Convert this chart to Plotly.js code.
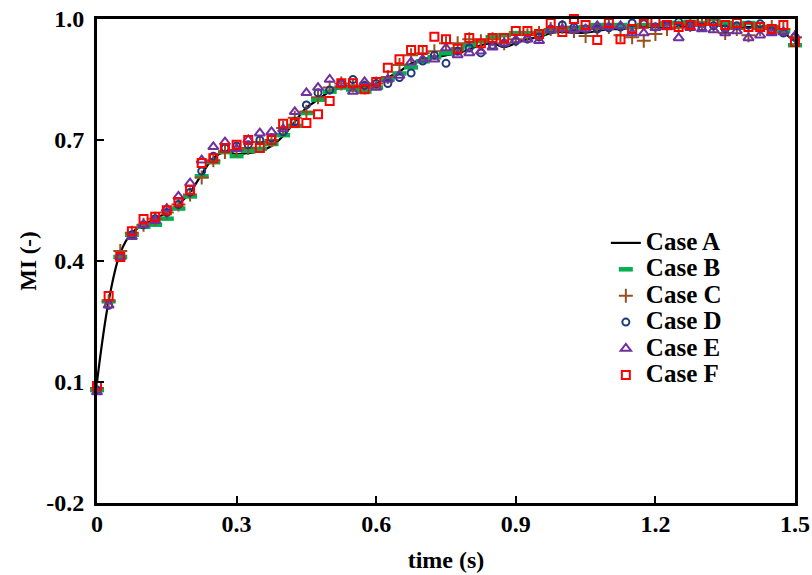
<!DOCTYPE html>
<html>
<head>
<meta charset="utf-8">
<script src="https://cdn.plot.ly/plotly-3.0.1.min.js"></script>
<style>html,body{margin:0;padding:0;background:#fff;}#chart{width:812px;height:575px;}</style>
</head>
<body>
<div id="chart"></div>
<script>
const time = [0,0.025,0.05,0.075,0.1,0.125,0.15,0.175,0.2,0.225,
  0.25,0.275,0.3,0.325,0.35,0.375,0.4,0.425,0.45,0.475,
  0.5,0.525,0.55,0.575,0.6,0.625,0.65,0.675,0.7,0.725,
  0.75,0.775,0.8,0.825,0.85,0.875,0.9,0.925,0.95,0.975,
  1.0,1.025,1.05,1.075,1.1,1.125,1.15,1.175,1.2,1.225,
  1.25,1.275,1.3,1.325,1.35,1.375,1.4,1.425,1.45,1.475,1.5];

const caseA = [0.10,0.30,0.42,0.47,0.49,0.505,0.52,0.54,0.57,0.615,
  0.655,0.67,0.665,0.668,0.672,0.685,0.71,0.745,0.78,0.80,
  0.82,0.83,0.835,0.832,0.84,0.855,0.87,0.89,0.90,0.905,
  0.91,0.915,0.925,0.935,0.94,0.93,0.94,0.95,0.955,0.965,
  0.968,0.966,0.966,0.97,0.975,0.975,0.978,0.98,0.98,0.978,
  0.98,0.983,0.985,0.985,0.982,0.98,0.98,0.98,0.978,0.965,0.945];

const caseB = [0.08,0.30,0.41,0.465,0.485,0.49,0.505,0.53,0.56,0.61,
  0.645,0.67,0.66,0.673,0.678,0.69,0.712,0.735,0.767,0.80,
  0.82,0.83,0.825,0.82,0.83,0.85,0.865,0.88,0.895,0.905,
  0.915,0.925,0.935,0.945,0.955,0.96,0.965,0.965,0.965,0.97,
  0.975,0.978,0.98,0.985,0.985,0.985,0.98,0.985,0.985,0.99,
  0.99,0.993,0.99,1.0,0.99,0.985,0.99,0.98,0.98,0.97,0.935];

const caseC = [0.085,0.30,0.425,0.47,0.49,0.505,0.52,0.54,0.565,0.607,
  0.65,0.67,0.675,0.68,0.695,0.70,0.73,0.755,0.77,0.806,
  0.83,0.84,0.835,0.83,0.84,0.856,0.886,0.91,0.915,0.92,
  0.94,0.94,0.95,0.945,0.95,0.94,0.95,0.96,0.965,0.975,
  0.98,0.97,0.958,0.975,0.98,0.96,0.955,0.946,0.963,0.975,
  0.978,0.985,0.99,0.985,0.965,0.975,0.96,0.975,0.98,0.975,0.955];

const caseD = [0.08,0.29,0.41,0.465,0.49,0.505,0.52,0.54,0.57,0.623,
  0.66,0.68,0.685,0.688,0.70,0.705,0.72,0.745,0.787,0.817,
  0.824,0.84,0.85,0.835,0.84,0.84,0.855,0.866,0.896,0.91,
  0.89,0.92,0.928,0.916,0.935,0.94,0.945,0.95,0.955,0.975,
  0.985,0.98,0.975,0.975,0.978,0.98,0.99,0.988,0.98,0.985,
  0.993,0.985,0.98,0.983,0.975,0.983,0.985,0.988,0.97,0.965,0.955];

const caseE = [0.075,0.29,0.41,0.46,0.49,0.50,0.53,0.56,0.593,0.65,
  0.683,0.695,0.678,0.70,0.717,0.72,0.727,0.77,0.817,0.83,
  0.85,0.84,0.82,0.844,0.83,0.85,0.86,0.893,0.90,0.90,
  0.928,0.911,0.916,0.92,0.93,0.94,0.948,0.95,0.946,0.973,
  0.975,0.973,0.975,0.983,0.98,0.983,0.965,0.965,0.978,0.98,
  0.953,0.978,0.975,0.973,0.965,0.97,0.953,0.96,0.965,0.968,0.958];

const caseF = [0.09,0.313,0.41,0.474,0.504,0.51,0.526,0.546,0.576,0.643,
  0.655,0.68,0.688,0.70,0.68,0.70,0.74,0.742,0.742,0.764,
  0.797,0.841,0.841,0.826,0.844,0.879,0.90,0.923,0.923,0.956,
  0.95,0.926,0.953,0.94,0.953,0.953,0.97,0.97,0.963,0.99,
  0.968,1.0,0.985,0.948,0.99,0.95,0.975,0.988,0.993,0.985,
  0.98,0.985,0.995,0.995,0.985,0.99,0.98,0.98,0.975,0.985,0.943];

const xTickVals = [0,0.3,0.6,0.9,1.2,1.5];
const xTickText = ['0','0.3','0.6','0.9','1.2','1.5'];
const yTickVals = [-0.2,0.1,0.4,0.7,1.0];
const yTickText = ['-0.2','0.1','0.4','0.7','1.0'];

const serif = 'Liberation Serif, Times New Roman, serif';

function markerTrace(name, y, symbol, color, size, lw) {
  return {
    x: time, y: y, name: name, type: 'scatter', mode: 'markers', cliponaxis: false,
    marker: {symbol: symbol, size: size, color: color, line: {color: color, width: lw}}
  };
}

const traces = [
  {x: time, y: caseA, name: 'Case A', type: 'scatter', mode: 'lines',
   line: {color: '#000000', width: 2.2, shape: 'spline', smoothing: 1}},
  markerTrace('Case B', caseB, 'line-ew', '#00B050', 10, 4.5),
  markerTrace('Case C', caseC, 'cross-thin', '#9C4F1E', 10, 2),
  markerTrace('Case D', caseD, 'circle-open', '#1F3A7A', 7, 2),
  markerTrace('Case E', caseE, 'triangle-up-open', '#7030A0', 9, 2),
  markerTrace('Case F', caseF, 'square-open', '#FF0000', 8, 2)
];

const axisCommon = {
  showgrid: false, zeroline: false, showline: true, mirror: true,
  linecolor: '#000', linewidth: 3, ticks: 'inside', ticklen: 7, tickwidth: 2, tickcolor: '#000',
  tickfont: {family: serif, size: 24, color: '#000', weight: 'bold'}
};

const layout = {
  width: 812, height: 575,
  margin: {l: 97, r: 17, t: 19, b: 72},
  paper_bgcolor: '#fff', plot_bgcolor: '#fff',
  showlegend: true,
  legend: {x: 0.729, y: 0.575, xanchor: 'left', yanchor: 'top',
    font: {family: serif, size: 18, color: '#000', weight: 'bold'},
    bgcolor: 'rgba(0,0,0,0)', borderwidth: 0, tracegroupgap: 0, itemwidth: 30},
  xaxis: Object.assign({}, axisCommon, {
    range: [0, 1.5], tickvals: xTickVals, ticktext: xTickText, ticklabelstandoff: -3,
    title: {text: 'time (s)', font: {family: serif, size: 24, color: '#000', weight: 'bold'}, standoff: 16}
  }),
  yaxis: Object.assign({}, axisCommon, {
    range: [-0.2, 1.0], tickvals: yTickVals, ticktext: yTickText, ticklabelstandoff: 5,
    title: {text: 'MI (-)', font: {family: serif, size: 23, color: '#000', weight: 'bold'}, standoff: 4}
  })
};

Plotly.newPlot('chart', traces, layout, {displayModeBar: false, staticPlot: true}).then(function () {
  // Legend labels in the reference are large but tightly spaced
  document.querySelectorAll('#chart .legend .scrollbox').forEach(function (s) {
    s.removeAttribute('clip-path');
  });
  document.querySelectorAll('#chart .legendtext').forEach(function (t) {
    t.style.fontSize = '25px';
  });
});
</script>
</body>
</html>
